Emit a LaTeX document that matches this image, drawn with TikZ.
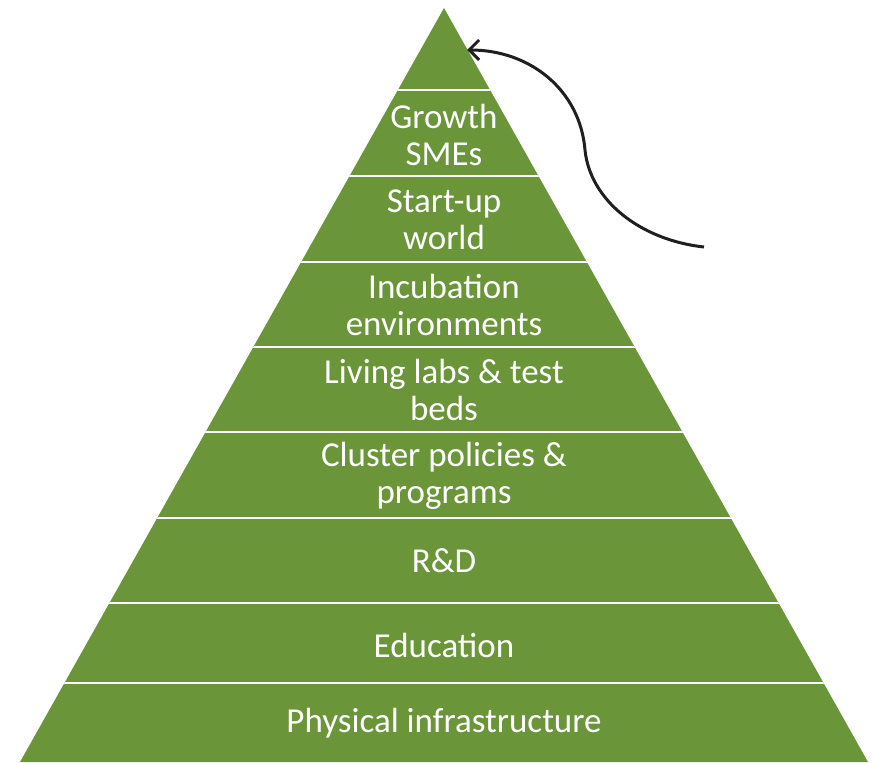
\documentclass[tikz,border=0pt]{standalone}
\usepackage{fontspec}
\setmainfont{Carlito}
\usetikzlibrary{arrows.meta}
\definecolor{pyrgreen}{RGB}{106,149,57}
\tikzset{
  lbl/.style={text=white, align=center, font=\fontsize{35}{37}\selectfont, inner sep=0pt},
  sep/.style={draw=white, line width=2.2pt},
  curvearrow/.style={draw=black!88, line width=3pt, -{Straight Barb[length=10pt,width=20pt,line width=3pt]}}
}
\begin{document}
\begin{tikzpicture}[x=1pt,y=-1pt]
\useasboundingbox (0,0) rectangle (874,762);
% pyramid
\coordinate (apex) at (444,8);
\coordinate (bl) at (20,762);
\coordinate (br) at (868,762);
\fill[pyrgreen] (apex) -- (bl) -- (br) -- cycle;
\begin{scope}
\clip (apex) -- (bl) -- (br) -- cycle;
\foreach \yy in {90,176,262,347,432,518,603,683}{
  \draw[sep] (0,\yy) -- (874,\yy);
}
\end{scope}
% labels
\node[lbl] (l1) at (444,135) {Growth\\SMEs};
\node[lbl] (l2) at (444,220) {Start-up\\world};
\node[lbl] (l3) at (444,305) {Incubation\\environments};
\node[lbl] (l4) at (444,390) {Living labs \& test\\beds};
\node[lbl] (l5) at (444,476) {Cluster policies \&\\programs};
\node[lbl] (l6) at (444,561) {R\&D};
\node[lbl] (l7) at (444,645) {Education};
\node[lbl] (l8) at (444,723) {Physical infrastructure};
% arrow
\coordinate (astart) at (704,247);
\coordinate (amid) at (585,150);
\coordinate (aend) at (467,50);
\draw[curvearrow] (astart) .. controls (640,240) and (590,200) .. (amid)
  .. controls (580,90) and (530,50) .. (aend);
\end{tikzpicture}
\end{document}
